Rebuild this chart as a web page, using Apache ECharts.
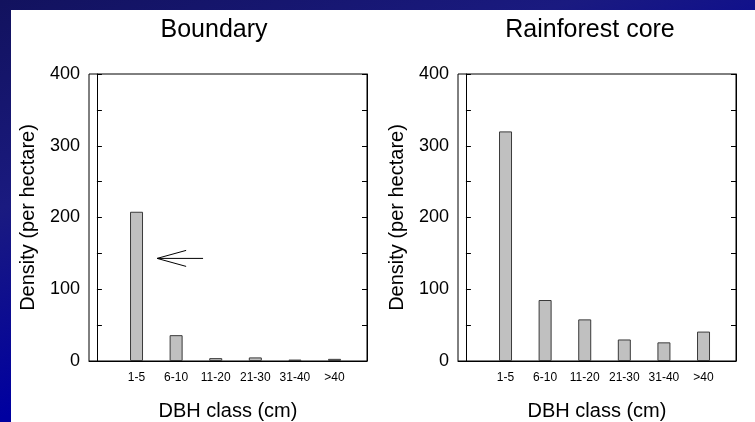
<!DOCTYPE html>
<html>
<head>
<meta charset="utf-8">
<title>DBH class density</title>
<script src="https://cdn.jsdelivr.net/npm/echarts@6/dist/echarts.min.js"></script>
<style>
  html, body { margin: 0; padding: 0; }
  #chart {
    width: 755px;
    height: 422px;
    background: linear-gradient(160deg, #12125e 0%, #1a1a80 30%, #0000a0 60%, #00007a 100%);
  }
</style>
</head>
<body>
<div id="chart"></div>
<script>
  // data
  const dbhClasses = ['1-5', '6-10', '11-20', '21-30', '31-40', '>40'];
  const classPositions = [1, 2, 3, 4, 5, 6];
  const boundaryDensity = [208, 36, 4, 5, 2, 3];
  const coreDensity = [320, 85, 58, 30, 26, 41];
  const panelTitles = ['Boundary', 'Rainforest core'];
  // arrow annotation on the boundary panel: [tailX, tailY, tipX, tipY]
  const arrowAnnotation = [2.68, 143, 1.52, 143];

  const font = '"Liberation Sans", Arial, sans-serif';
  const chart = echarts.init(document.getElementById('chart'));

  function pairs(values) {
    return values.map((v, i) => [classPositions[i], v]);
  }

  function xAxisFor(gridIndex) {
    return {
      type: 'value',
      gridIndex: gridIndex,
      min: -0.2,
      max: 6.82,
      name: 'DBH class (cm)',
      nameLocation: 'middle',
      nameGap: 40,
      nameMoveOverlap: false,
      nameTextStyle: { color: '#000', fontSize: 20, fontFamily: font },
      axisLine: { show: true, lineStyle: { color: '#000', width: 1 } },
      axisTick: { show: false },
      splitLine: { show: false },
      axisLabel: {
        customValues: classPositions,
        formatter: v => dbhClasses[classPositions.indexOf(v)] || '',
        color: '#000',
        fontSize: 12,
        fontFamily: font,
        margin: 11
      }
    };
  }

  function yAxesFor(gridIndex) {
    const base = {
      type: 'value',
      gridIndex: gridIndex,
      min: 0,
      max: 400,
      interval: 100,
      axisLine: { show: true, lineStyle: { color: '#000', width: 1 } },
      axisTick: { show: true, inside: true, length: 5, lineStyle: { color: '#000' } },
      minorTick: { show: true, splitNumber: 2, length: 5, lineStyle: { color: '#000' } },
      splitLine: { show: false },
      minorSplitLine: { show: false }
    };
    return [
      Object.assign({}, base, {
        position: 'left',
        name: 'Density (per hectare)',
        nameLocation: 'middle',
        nameGap: 51,
        nameMoveOverlap: false,
        nameTextStyle: { color: '#000', fontSize: 20, fontFamily: font },
        axisLabel: { color: '#000', fontSize: 18, fontFamily: font, margin: 9 }
      }),
      Object.assign({}, base, {
        position: 'right',
        axisLabel: { show: false }
      })
    ];
  }

  function barSeries(index, values) {
    return {
      type: 'bar',
      xAxisIndex: index,
      yAxisIndex: index * 2,
      barWidth: 13,
      data: pairs(values),
      itemStyle: { color: '#c0c0c0', borderColor: '#3a3a3a', borderWidth: 1 },
      silent: true
    };
  }

  const gridBase = {
    top: 74, width: 278, height: 287,
    show: true, borderColor: '#000', borderWidth: 1, backgroundColor: 'transparent',
    containLabel: false, outerBoundsMode: 'none'
  };

  const option = {
    animation: false,
    backgroundColor: 'transparent',
    graphic: [
      { type: 'rect', left: 11, top: 10, shape: { width: 744, height: 412 }, style: { fill: '#fff' }, z: -10 },
      { type: 'text', x: 214, y: 30, style: { text: panelTitles[0], fill: '#000', font: '25px ' + font, textAlign: 'center', textVerticalAlign: 'middle' } },
      { type: 'text', x: 590, y: 30, style: { text: panelTitles[1], fill: '#000', font: '25px ' + font, textAlign: 'center', textVerticalAlign: 'middle' } }
    ],
    grid: [
      Object.assign({ left: 89 }, gridBase),
      Object.assign({ left: 458 }, gridBase)
    ],
    xAxis: [xAxisFor(0), xAxisFor(1)],
    yAxis: yAxesFor(0).concat(yAxesFor(1)),
    series: [
      barSeries(0, boundaryDensity),
      barSeries(1, coreDensity),
      {
        type: 'custom',
        xAxisIndex: 0,
        yAxisIndex: 0,
        silent: true,
        clip: false,
        encode: { x: [0, 2], y: [1, 3] },
        data: [arrowAnnotation],
        renderItem: function (params, api) {
          const tail = api.coord([api.value(0), api.value(1)]);
          const tip = api.coord([api.value(2), api.value(3)]);
          const headLen = 29, headHalf = 8;
          return {
            type: 'group',
            children: [
              { type: 'line', shape: { x1: tail[0], y1: tail[1], x2: tip[0], y2: tip[1] }, style: { stroke: '#000', lineWidth: 1 } },
              { type: 'polyline', shape: { points: [[tip[0] + headLen, tip[1] - headHalf], tip, [tip[0] + headLen, tip[1] + headHalf]] }, style: { stroke: '#000', fill: null, lineWidth: 1 } }
            ]
          };
        }
      }
    ]
  };

  chart.setOption(option);
</script>
</body>
</html>
